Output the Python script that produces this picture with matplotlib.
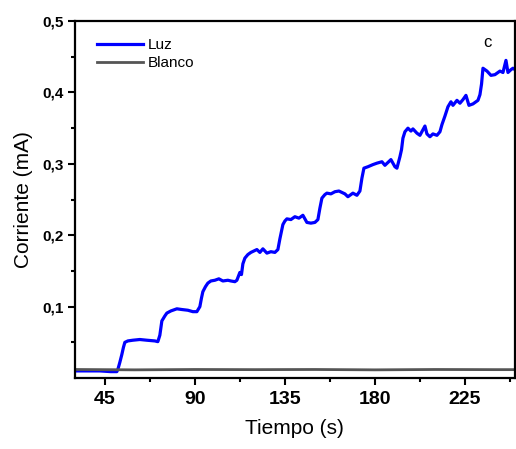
import matplotlib
matplotlib.use("Agg")
import matplotlib.pyplot as plt
from matplotlib.ticker import FixedLocator, FuncFormatter

plt.rcParams['font.family'] = ['Liberation Sans', 'DejaVu Sans']

# --- data ---
t_luz = [30, 42.5, 48, 51, 51.5, 52.5, 53.5, 54.3, 55, 56.5, 59, 62.5, 66, 70, 71.5,
         72.5, 73.5, 75, 76, 78, 81, 83.5, 86.5, 89, 91, 92.5, 93.3, 94, 95.3, 96.5,
         98, 100, 102, 104, 106.5, 108, 110, 111, 112.5, 113.3, 114, 115, 116.5,
         118, 121, 122.5, 124, 126, 128, 130, 131.5, 132.5, 134, 135, 136, 138,
         140, 142, 144, 146, 148, 150, 151.5, 152.5, 153.5, 155, 156, 158, 160,
         162, 165, 166.5, 169, 171, 172.5, 173.5, 174.5, 176.5, 179, 181, 183.5,
         185, 186.5, 188, 190, 191, 192.5, 193.3, 194, 195, 196.5, 198, 199, 201,
         202.5, 205, 206, 207.5, 209, 211, 212.5, 213.5, 215, 216.5, 218, 219,
         221, 222.5, 224, 225.5, 227, 229, 231.5, 232.5, 233.3, 234, 236, 238,
         240, 242.5, 244, 245.5, 246.5, 248, 249, 250]
i_luz = [0.010, 0.010, 0.009, 0.009, 0.012, 0.022, 0.033, 0.043, 0.050, 0.052, 0.053, 0.054, 0.053, 0.052, 0.051,
         0.060, 0.080, 0.087, 0.091, 0.094, 0.097, 0.096, 0.095, 0.093, 0.093, 0.100, 0.112, 0.121, 0.128, 0.133,
         0.136, 0.137, 0.139, 0.136, 0.137, 0.136, 0.135, 0.137, 0.148, 0.145, 0.160, 0.168, 0.173,
         0.176, 0.180, 0.176, 0.181, 0.175, 0.177, 0.176, 0.180, 0.195, 0.215, 0.220, 0.223, 0.222,
         0.226, 0.224, 0.228, 0.218, 0.217, 0.218, 0.222, 0.238, 0.252, 0.257, 0.259, 0.258, 0.261,
         0.262, 0.258, 0.254, 0.259, 0.256, 0.262, 0.280, 0.294, 0.296, 0.299, 0.301, 0.303,
         0.298, 0.302, 0.306, 0.296, 0.294, 0.310, 0.320, 0.336, 0.345, 0.350, 0.346, 0.349, 0.343,
         0.340, 0.353, 0.342, 0.338, 0.342, 0.340, 0.345, 0.355, 0.367, 0.380, 0.387, 0.382,
         0.389, 0.385, 0.390, 0.396, 0.382, 0.384, 0.389, 0.397, 0.412, 0.434, 0.430, 0.424,
         0.425, 0.430, 0.428, 0.445, 0.428, 0.432, 0.434, 0.432]

t_blanco = [30, 60, 90, 120, 150, 180, 210, 240, 250]
i_blanco = [0.012, 0.0115, 0.012, 0.0118, 0.012, 0.0115, 0.012, 0.0118, 0.0118]

x_ticks = [45, 90, 135, 180, 225]
x_minor = [67.5, 112.5, 157.5, 202.5, 247.5]
y_ticks = [0.1, 0.2, 0.3, 0.4, 0.5]
y_minor = [0.05, 0.15, 0.25, 0.35, 0.45]

fig = plt.figure(figsize=(5.16, 4.49), dpi=100)
ax = fig.add_axes([0.145, 0.158, 0.853, 0.795])

ax.plot(t_luz, i_luz, color="#0000ff", lw=2.3, label="Luz")
ax.plot(t_blanco, i_blanco, color="#555555", lw=2.0, label="Blanco")

ax.set_xlim(30, 250)
ax.set_ylim(0, 0.5)
ax.xaxis.set_major_locator(FixedLocator(x_ticks))
ax.xaxis.set_minor_locator(FixedLocator(x_minor))
ax.yaxis.set_major_locator(FixedLocator(y_ticks))
ax.yaxis.set_minor_locator(FixedLocator(y_minor))
ax.yaxis.set_major_formatter(FuncFormatter(lambda v, p: f"{v:.1f}".replace(".", ",")))

for s in ax.spines.values():
    s.set_linewidth(1.6)
ax.tick_params(which="major", direction="out", length=5, width=1.5)
ax.tick_params(which="minor", direction="out", length=3, width=1.5)
ax.tick_params(axis="x", labelsize=14, pad=4)
ax.tick_params(axis="y", labelsize=11, pad=3)
for lbl in ax.get_xticklabels() + ax.get_yticklabels():
    lbl.set_fontweight("bold")

ax.set_xlabel("Tiempo (s)", fontsize=15, labelpad=8)
ax.set_ylabel("Corriente (mA)", fontsize=15, labelpad=7)

ax.legend(loc="upper left", frameon=False, fontsize=11, handlelength=3.0,
          handletextpad=0.3, labelspacing=0.25, bbox_to_anchor=(0.02, 0.99))
ax.text(236, 0.47, "c", fontsize=12, ha="center", va="center")

fig.savefig("out.png", dpi=100)
